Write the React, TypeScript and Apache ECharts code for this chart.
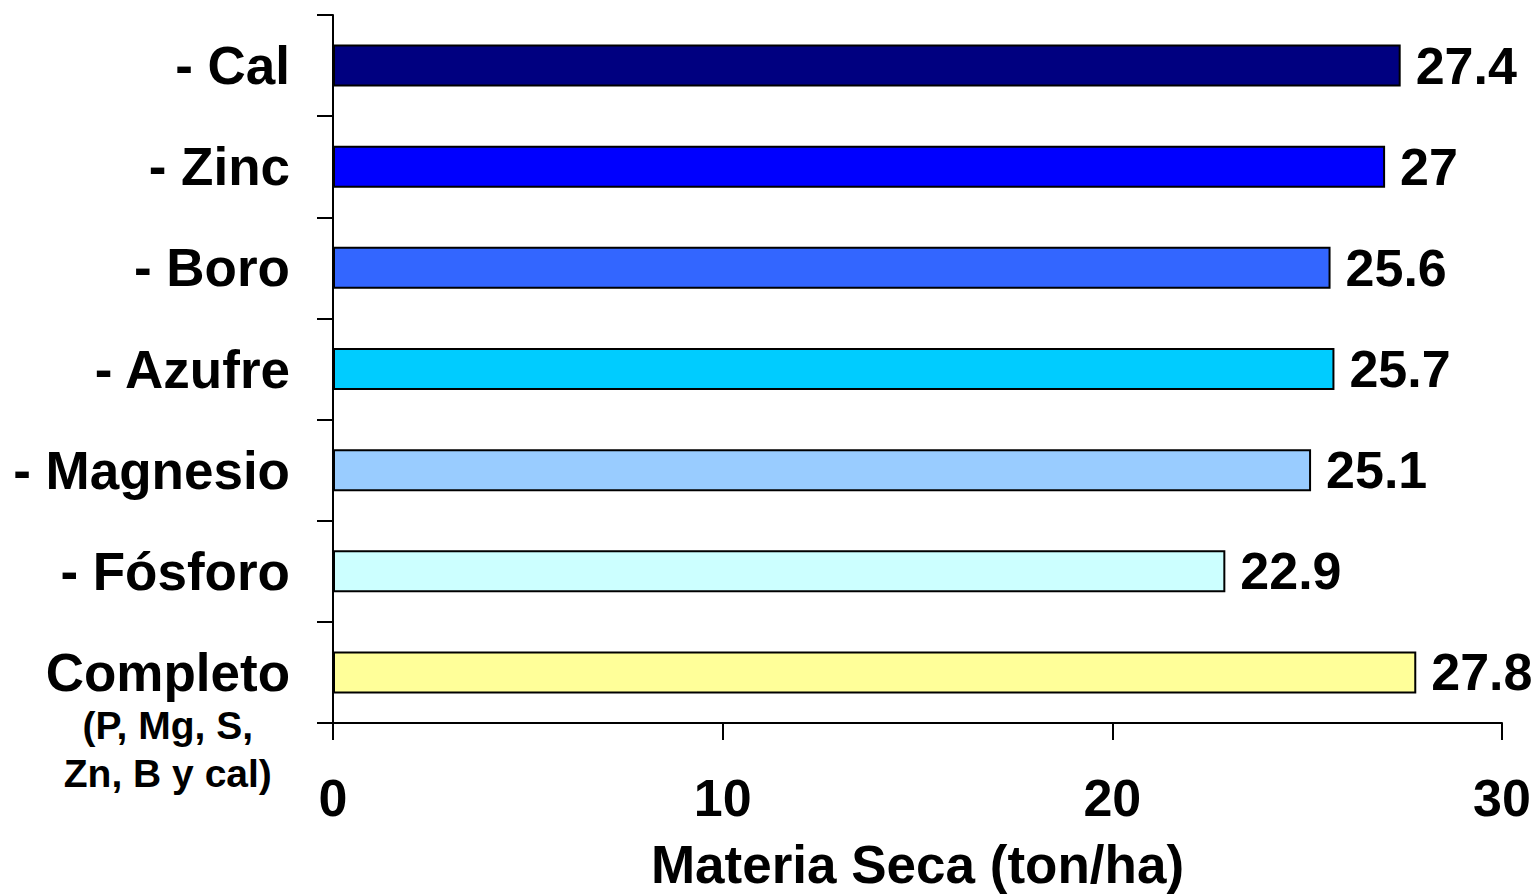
import React, { useEffect, useRef } from "react";
import * as echarts from "echarts";

const categories = ["- Cal", "- Zinc", "- Boro", "- Azufre", "- Magnesio", "- Fósforo", "Completo"];
const values = [27.4, 27, 25.6, 25.7, 25.1, 22.9, 27.8];
const barColors = ["#000080", "#0000FF", "#3366FF", "#00CCFF", "#99CCFF", "#CCFFFF", "#FFFF99"];
const xTicks = [0, 10, 20, 30];
const xAxisName = "Materia Seca (ton/ha)";
const completoSub = ["(P, Mg, S,", "Zn, B y cal)"];

const FONT = "'Liberation Sans', Arial, sans-serif";

export default function App() {
  const ref = useRef<HTMLDivElement>(null);
  useEffect(() => {
    if (!ref.current) return;
    const chart = echarts.init(ref.current, null, { renderer: "svg" });
    chart.setOption({
      animation: false,
      backgroundColor: "#ffffff",
      grid: { left: 333, right: 35, top: 15, bottom: 170, containLabel: false },
      xAxis: {
        type: "value",
        min: xTicks[0],
        max: xTicks[xTicks.length - 1],
        interval: xTicks[1] - xTicks[0],
        name: xAxisName,
        nameLocation: "middle",
        nameGap: 115,
        nameTextStyle: { color: "#000", fontFamily: FONT, fontWeight: "bold", fontSize: 53, verticalAlign: "top" },
        axisLine: { show: true, lineStyle: { color: "#000", width: 2 } },
        axisTick: { show: true, length: 17, lineStyle: { color: "#000", width: 2 } },
        axisLabel: { margin: 49, color: "#000", fontFamily: FONT, fontWeight: "bold", fontSize: 52 },
        splitLine: { show: false },
      },
      yAxis: {
        type: "category",
        inverse: true,
        data: categories,
        axisLine: { show: true, lineStyle: { color: "#000", width: 2 } },
        axisTick: { show: true, length: 16, lineStyle: { color: "#000", width: 2 } },
        axisLabel: {
          interval: 0,
          hideOverlap: false,
          margin: 43,
          color: "#000",
          fontFamily: FONT,
          fontWeight: "bold",
          fontSize: 53,
          formatter: (v: string) => {
            if (v === "Completo") {
              return `{s| }\n{s| }\n{a|${v}}\n{b|${completoSub[0]}}\n{b|${completoSub[1]}}`;
            }
            return v;
          },
          rich: {
            s: { fontSize: 39, lineHeight: 48, fontFamily: FONT, fontWeight: "bold", color: "#000", align: "center" },
            a: { fontSize: 53, lineHeight: 58, fontFamily: FONT, fontWeight: "bold", color: "#000", align: "center" },
            b: { fontSize: 39, lineHeight: 48, fontFamily: FONT, fontWeight: "bold", color: "#000", align: "center" },
          },
        },
        splitLine: { show: false },
      },
      series: [
        {
          type: "bar",
          barWidth: 42,
          data: values.map((v, i) => ({
            value: v,
            itemStyle: { color: barColors[i], borderColor: "#000", borderWidth: 2 },
          })),
          label: {
            show: true,
            position: "right",
            distance: 15,
            color: "#000",
            fontFamily: FONT,
            fontWeight: "bold",
            fontSize: 52,
          },
        },
      ],
    });
    return () => chart.dispose();
  }, []);
  return (
    <div
      ref={ref}
      style={{ position: "fixed", left: 0, top: 0, width: 1537, height: 896, background: "#fff" }}
    />
  );
}
